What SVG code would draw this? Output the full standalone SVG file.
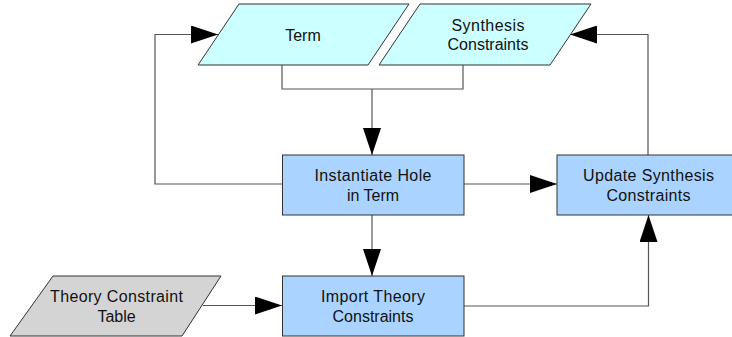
<svg xmlns="http://www.w3.org/2000/svg" width="732" height="337" viewBox="0 0 732 337">
  <defs>
    <marker id="arr" markerUnits="userSpaceOnUse" markerWidth="27" markerHeight="18" refX="27" refY="9" orient="auto">
      <path d="M0,0 L27,9 L0,18 z" fill="#000"/>
    </marker>
    <style>
      .data { fill: #ccffff; stroke: #333; stroke-width: 1; }
      .proc { fill: #aad4ff; stroke: #333; stroke-width: 1; }
      .ext { fill: #d4d4d4; stroke: #333; stroke-width: 1; }
      .lbl { font-family: "Liberation Sans", Arial, sans-serif; font-size: 16px; fill: #111; text-anchor: middle; }
      .conn { fill: none; stroke: #555; stroke-width: 1.2; }
      .arrow { marker-end: url(#arr); }
    </style>
  </defs>

  <g id="connectors">
    <polyline class="conn" points="282,65 282,89 463,89 463,65"/>
    <polyline class="conn arrow" points="372,89 372,155"/>
    <polyline class="conn arrow" points="282,184 155,184 155,34.5 218,34.5"/>
    <polyline class="conn arrow" points="464,184 557,184"/>
    <polyline class="conn arrow" points="648,155 648,34.5 570,34.5"/>
    <polyline class="conn arrow" points="372,215 372,276"/>
    <polyline class="conn arrow" points="203,305.5 282,305.5"/>
    <polyline class="conn arrow" points="464,306 648.5,306 648.5,215"/>
  </g>

  <g id="term">
    <polygon class="data" points="239,4 409,4 368,65 198,65"/>
    <text class="lbl" x="303" y="40.5">Term</text>
  </g>

  <g id="synthesis-constraints">
    <polygon class="data" points="420,4 591,4 550,65 379,65"/>
    <text class="lbl" x="488" y="30.5" textLength="73" lengthAdjust="spacing">Synthesis</text>
    <text class="lbl" x="488" y="49.5">Constraints</text>
  </g>

  <g id="instantiate-hole">
    <rect class="proc" x="282.5" y="155" width="181.5" height="60"/>
    <text class="lbl" x="373" y="180.5" textLength="117" lengthAdjust="spacing">Instantiate Hole</text>
    <text class="lbl" x="373" y="201">in Term</text>
  </g>

  <g id="update-synthesis">
    <rect class="proc" x="557" y="155" width="182" height="60"/>
    <text class="lbl" x="648.5" y="180.5" textLength="131" lengthAdjust="spacing">Update Synthesis</text>
    <text class="lbl" x="648.5" y="200.5" textLength="84" lengthAdjust="spacing">Constraints</text>
  </g>

  <g id="import-theory">
    <rect class="proc" x="282.5" y="276" width="181.5" height="60"/>
    <text class="lbl" x="373" y="301.5" textLength="104" lengthAdjust="spacing">Import Theory</text>
    <text class="lbl" x="373" y="321.5">Constraints</text>
  </g>

  <g id="theory-table">
    <polygon class="ext" points="53,276 221,276 182,336 10,336"/>
    <text class="lbl" x="116.5" y="301.5" textLength="133" lengthAdjust="spacing">Theory Constraint</text>
    <text class="lbl" x="116.5" y="322">Table</text>
  </g>
</svg>
